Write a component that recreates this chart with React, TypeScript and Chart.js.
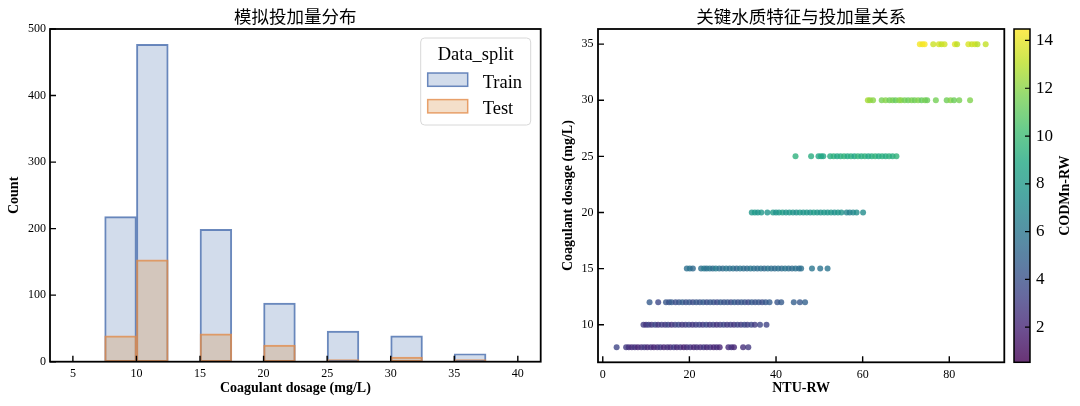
import { useEffect, useRef } from "react";
import { Chart, registerables, ChartConfiguration, Plugin } from "chart.js";

Chart.register(...registerables);

const SERIF = "'Liberation Serif', 'Times New Roman', serif";
const CJK = "'Noto Sans CJK SC', sans-serif";

// left: histogram, bin width 2.5 (centres)
const binCenters = [8.75, 11.25, 13.75, 16.25, 18.75, 21.25, 23.75, 26.25, 28.75, 31.25, 33.75, 36.25];
const trainCounts = [218, 477, 0, 199, 0, 88, 0, 46, 0, 39, 0, 12];
const testCounts = [39, 153, 0, 42, 0, 25, 0, 3, 0, 7, 0, 3];
const histTitle = "模拟投加量分布";
const legendTitle = "Data_split";
const splitLabels = ["Train", "Test"];

// right: scatter, [NTU-RW, CODMn-RW] for each coagulant dosage
const dose8 = [[3.2, 3.4], [5.4, 2.9], [6.0, 2.5], [6.7, 2.2], [7.4, 2.6], [8.1, 2.0], [8.9, 2.4], [9.6, 2.8], [10.3, 2.1], [11.1, 2.5], [11.8, 1.9], [12.6, 2.3], [13.3, 2.7], [14.1, 2.0], [14.9, 2.4], [15.6, 2.2], [16.4, 2.9], [17.1, 2.1], [17.9, 2.5], [18.7, 1.8], [19.4, 2.3], [20.2, 2.6], [21.0, 2.0], [21.7, 2.4], [22.5, 2.2], [23.3, 2.7], [24.0, 2.1], [24.8, 2.5], [25.6, 1.9], [26.3, 2.3], [27.0, 2.0], [29.0, 2.2], [29.7, 2.6], [30.3, 2.1], [32.4, 2.4], [33.6, 2.8]];
const dose10 = [[9.4, 3.0], [10.0, 2.6], [10.6, 3.3], [11.3, 2.8], [12.1, 3.5], [12.8, 2.7], [13.6, 3.1], [14.4, 2.9], [15.1, 3.4], [15.9, 2.6], [16.7, 3.2], [17.5, 3.6], [18.3, 2.8], [19.1, 3.0], [19.9, 3.4], [20.7, 2.7], [21.5, 3.1], [22.3, 3.3], [23.1, 2.9], [23.9, 3.5], [24.7, 2.8], [25.5, 3.2], [26.3, 2.6], [27.1, 3.0], [27.9, 3.4], [28.7, 2.9], [29.5, 3.1], [30.3, 2.7], [31.1, 3.3], [31.9, 3.0], [32.7, 3.6], [33.4, 3.2], [34.3, 3.5], [35.1, 3.0], [36.3, 3.4], [37.8, 3.3]];
const dose12 = [[10.8, 4.5], [12.8, 3.6], [14.6, 4.3], [15.3, 4.0], [15.9, 4.6], [16.8, 3.9], [17.6, 4.2], [18.4, 4.7], [19.2, 4.0], [20.0, 4.4], [20.8, 3.8], [21.6, 4.3], [22.4, 4.1], [23.2, 4.6], [24.0, 3.9], [24.8, 4.4], [25.6, 4.2], [26.4, 3.7], [27.2, 4.5], [28.0, 4.1], [28.8, 4.3], [29.6, 3.8], [30.4, 4.6], [31.2, 4.0], [32.0, 4.4], [32.8, 4.2], [33.6, 3.7], [34.4, 4.5], [35.2, 4.1], [36.0, 4.3], [36.8, 3.9], [37.6, 4.4], [38.5, 4.6], [40.3, 4.2], [41.2, 4.5], [44.1, 4.7], [45.5, 4.4], [46.7, 4.8]];
const dose15 = [[19.4, 5.6], [20.1, 5.9], [20.8, 5.3], [22.7, 5.7], [23.4, 6.3], [24.0, 5.8], [24.7, 6.1], [25.4, 5.5], [26.1, 6.4], [26.9, 5.7], [27.7, 5.4], [28.5, 6.0], [29.3, 5.6], [30.1, 5.8], [30.9, 5.3], [31.7, 5.9], [32.5, 5.6], [33.3, 5.4], [34.1, 6.0], [34.9, 5.7], [35.7, 5.5], [36.5, 5.8], [37.3, 5.3], [38.1, 5.9], [38.9, 5.6], [39.7, 5.4], [40.5, 5.7], [41.3, 5.5], [42.1, 5.9], [42.9, 5.6], [43.7, 5.4], [44.5, 5.8], [45.3, 5.5], [45.8, 5.7], [48.3, 6.0], [50.2, 5.8], [51.9, 5.9]];
const dose20 = [[34.4, 7.8], [35.1, 8.1], [35.8, 7.6], [36.6, 8.0], [38.0, 7.7], [39.3, 8.2], [40.0, 7.5], [40.7, 7.9], [41.5, 8.3], [42.3, 7.6], [43.1, 8.0], [43.9, 7.8], [44.7, 7.4], [45.5, 8.1], [46.3, 7.7], [47.1, 7.9], [47.9, 7.5], [48.7, 8.2], [49.5, 7.8], [50.3, 7.6], [51.1, 8.0], [51.9, 7.7], [52.7, 7.9], [53.5, 7.5], [54.3, 7.8], [55.1, 7.6], [56.3, 6.9], [57.0, 6.6], [57.8, 7.0], [58.6, 7.3], [60.1, 7.2]];
const dose25 = [[44.5, 9.4], [48.1, 9.2], [49.8, 8.8], [50.4, 9.0], [50.9, 8.7], [52.5, 9.1], [53.3, 9.4], [54.1, 8.9], [54.9, 9.2], [55.7, 9.5], [56.5, 9.0], [57.3, 9.3], [58.1, 8.8], [58.9, 9.6], [59.7, 9.1], [60.5, 9.4], [61.3, 8.9], [62.1, 9.2], [62.9, 9.5], [63.7, 9.0], [64.5, 9.3], [65.3, 9.1], [66.1, 9.4], [66.9, 9.2], [67.8, 9.5]];
const dose30 = [[61.2, 12.6], [61.7, 12.3], [62.4, 12.0], [64.4, 11.6], [65.3, 11.9], [66.2, 11.4], [66.9, 11.7], [67.6, 11.2], [68.4, 11.8], [68.9, 12.0], [69.7, 11.5], [70.5, 11.3], [71.3, 11.7], [72.0, 11.4], [72.8, 11.8], [73.6, 11.2], [74.4, 11.6], [74.9, 11.3], [76.9, 11.5], [79.4, 11.4], [80.3, 11.9], [81.1, 11.3], [82.3, 11.6], [84.8, 11.8]];
const dose35 = [[73.2, 14.3], [73.8, 14.2], [74.3, 14.4], [76.3, 13.4], [77.6, 13.6], [78.2, 13.2], [78.9, 13.5], [81.3, 13.8], [81.8, 13.1], [84.4, 13.7], [85.2, 13.3], [85.9, 13.5], [86.5, 13.0], [88.4, 13.2]];
const dosageLevels = [8, 10, 12, 15, 20, 25, 30, 35];
const scatterByDose = [dose8, dose10, dose12, dose15, dose20, dose25, dose30, dose35];
const scatterTitle = "关键水质特征与投加量关系";
const CB_MIN = 0.53;
const CB_MAX = 14.48;

const VIRIDIS = ["#440154", "#482475", "#414487", "#355f8d", "#2a788e", "#21918c", "#22a884", "#44bf70", "#7ad151", "#bddf26", "#fde725"];
const VIRIDIS_RGB = VIRIDIS.map((h) => {
  const n = parseInt(h.slice(1), 16);
  return [n >> 16, (n >> 8) & 255, n & 255];
});

function viridis(t: number, alpha: number) {
  t = Math.min(1, Math.max(0, t));
  const f = t * (VIRIDIS_RGB.length - 1);
  const i = Math.min(Math.floor(f), VIRIDIS_RGB.length - 2);
  const k = f - i;
  const a = VIRIDIS_RGB[i], b = VIRIDIS_RGB[i + 1];
  const c = a.map((v, j) => Math.round(v + (b[j] - v) * k));
  return `rgba(${c[0]},${c[1]},${c[2]},${alpha})`;
}

const TRAIN_FILL = "rgba(76,114,176,0.25)";
const TRAIN_EDGE = "rgba(70,108,172,0.8)";
const TEST_FILL = "rgba(215,135,60,0.27)";
const TEST_EDGE = "rgba(228,140,75,0.8)";

const tickFont = { family: SERIF, size: 12 };
const axisTitleFont = { family: SERIF, size: 14, weight: "bold" as const };

// frame, inward ticks on bottom/left, and the title above the axes
function framePlugin(title: string): Plugin {
  return {
    id: "frame",
    afterDatasetsDraw(chart) {
      const { ctx, chartArea: a } = chart;
      const xs = chart.scales.x;
      const ys = chart.scales.y;
      ctx.save();
      ctx.strokeStyle = "#000";
      ctx.lineWidth = 1.4;
      ctx.beginPath();
      xs.ticks.forEach((t) => {
        const p = xs.getPixelForValue(t.value);
        ctx.moveTo(p, a.bottom);
        ctx.lineTo(p, a.bottom - 6);
      });
      ys.ticks.forEach((t) => {
        const p = ys.getPixelForValue(t.value);
        ctx.moveTo(a.left, p);
        ctx.lineTo(a.left + 6, p);
      });
      ctx.stroke();
      ctx.lineWidth = 1.8;
      ctx.strokeRect(a.left, a.top, a.right - a.left, a.bottom - a.top);
      ctx.fillStyle = "#000";
      ctx.font = `17.5px ${CJK}`;
      ctx.textAlign = "center";
      ctx.textBaseline = "middle";
      ctx.fillText(title, (a.left + a.right) / 2, 16);
      ctx.restore();
    },
  };
}

const legendPlugin: Plugin = {
  id: "histLegend",
  afterDraw(chart) {
    const { ctx, chartArea: a } = chart;
    const w = 110, h = 87;
    const x0 = a.right - 10 - w;
    const y0 = a.top + 9;
    ctx.save();
    ctx.fillStyle = "rgba(255,255,255,0.8)";
    ctx.strokeStyle = "#d8d8d8";
    ctx.lineWidth = 1;
    ctx.beginPath();
    ctx.roundRect(x0, y0, w, h, 4);
    ctx.fill();
    ctx.stroke();
    ctx.fillStyle = "#000";
    ctx.font = `18.5px ${SERIF}`;
    ctx.textAlign = "center";
    ctx.textBaseline = "alphabetic";
    ctx.fillText(legendTitle, x0 + w / 2, y0 + 22);
    ctx.textAlign = "left";
    const fills = [TRAIN_FILL, TEST_FILL];
    const edges = [TRAIN_EDGE, TEST_EDGE];
    splitLabels.forEach((lab, i) => {
      const sy = y0 + 35 + i * 26.6;
      ctx.fillStyle = "#fff";
      ctx.fillRect(x0 + 7, sy, 40, 13.3);
      ctx.fillStyle = fills[i];
      ctx.fillRect(x0 + 7, sy, 40, 13.3);
      ctx.strokeStyle = edges[i];
      ctx.lineWidth = 1.5;
      ctx.strokeRect(x0 + 7, sy, 40, 13.3);
      ctx.fillStyle = "#000";
      ctx.fillText(lab, x0 + 62, sy + 14.5);
    });
    ctx.restore();
  },
};

const colorbarPlugin: Plugin = {
  id: "colorbar",
  afterDraw(chart) {
    const { ctx, chartArea: a } = chart;
    const cb = chart.scales.cb;
    const x0 = a.right + 9.7;
    const w = 16;
    const yTop = cb.getPixelForValue(CB_MAX);
    const yBot = cb.getPixelForValue(CB_MIN);
    ctx.save();
    const g = ctx.createLinearGradient(0, yBot, 0, yTop);
    for (let i = 0; i <= 40; i++) g.addColorStop(i / 40, viridis(i / 40, 0.8));
    ctx.fillStyle = g;
    ctx.fillRect(x0, yTop, w, yBot - yTop);
    ctx.strokeStyle = "#000";
    ctx.lineWidth = 1.2;
    ctx.beginPath();
    cb.ticks.forEach((t) => {
      const p = cb.getPixelForValue(t.value);
      ctx.moveTo(x0 + w, p);
      ctx.lineTo(x0 + w - 5, p);
    });
    ctx.stroke();
    ctx.lineWidth = 1.5;
    ctx.strokeRect(x0, yTop, w, yBot - yTop);
    ctx.translate(a.right + 60.7, (yTop + yBot) / 2);
    ctx.rotate(-Math.PI / 2);
    ctx.fillStyle = "#000";
    ctx.font = `bold 14px ${SERIF}`;
    ctx.textAlign = "center";
    ctx.textBaseline = "middle";
    ctx.fillText("CODMn-RW", 0, 0);
    ctx.restore();
  },
};

function HistChart() {
  const ref = useRef<HTMLCanvasElement | null>(null);
  useEffect(() => {
    if (!ref.current) return;
    const config: ChartConfiguration = {
      type: "bar",
      data: {
        datasets: [
          {
            label: splitLabels[0],
            data: binCenters.map((x, i) => ({ x, y: trainCounts[i] })),
            backgroundColor: TRAIN_FILL,
            borderColor: TRAIN_EDGE,
            borderWidth: 1.3,
            borderSkipped: false,
            barPercentage: 1,
            categoryPercentage: 1,
            grouped: false,
            order: 1,
          },
          {
            label: splitLabels[1],
            data: binCenters.map((x, i) => ({ x, y: testCounts[i] })),
            backgroundColor: TEST_FILL,
            borderColor: TEST_EDGE,
            borderWidth: 1.3,
            borderSkipped: false,
            barPercentage: 1,
            categoryPercentage: 1,
            grouped: false,
            order: 0,
          },
        ],
      } as any,
      options: {
        responsive: false,
        animation: false,
        events: [],
        layout: { padding: { top: 29, right: 9.3, left: 0, bottom: 0 } },
        plugins: { legend: { display: false }, tooltip: { enabled: false } },
        scales: {
          x: {
            type: "linear",
            min: 3.2,
            max: 41.8,
            offset: false,
            grid: { display: false, drawTicks: false, offset: false },
            border: { display: false },
            ticks: { stepSize: 5, includeBounds: false, padding: 5, font: tickFont, color: "#000", maxRotation: 0 },
            title: { display: true, text: "Coagulant dosage (mg/L)", font: axisTitleFont, color: "#000", padding: { top: 0, bottom: 9 } },
            afterFit: (s) => { s.height = 44.3; },
          },
          y: {
            type: "linear",
            min: 0,
            max: 500,
            grid: { display: false, drawTicks: false },
            border: { display: false },
            ticks: { stepSize: 100, includeBounds: false, padding: 4, font: tickFont, color: "#000" },
            title: { display: true, text: "Count", font: axisTitleFont, color: "#000", padding: { top: 6, bottom: 0 } },
            afterFit: (s) => { s.width = 50; },
          },
        },
      },
      plugins: [framePlugin(histTitle), legendPlugin],
    };
    const chart = new Chart(ref.current, config);
    return () => chart.destroy();
  }, []);
  return <canvas ref={ref} width={550} height={406} style={{ position: "absolute", left: 0, top: 0 }} />;
}

function ScatterChart() {
  const ref = useRef<HTMLCanvasElement | null>(null);
  useEffect(() => {
    if (!ref.current) return;
    const config: ChartConfiguration = {
      type: "scatter",
      data: {
        datasets: scatterByDose.map((pts, k) => ({
          label: `${dosageLevels[k]}`,
          data: pts.map(([x]) => ({ x, y: dosageLevels[k] })),
          backgroundColor: pts.map(([, c]) => viridis((c - CB_MIN) / (CB_MAX - CB_MIN), 0.8)),
          pointRadius: 3,
          pointHoverRadius: 3,
          borderWidth: 0,
          xAxisID: "x",
          yAxisID: "y",
        })),
      },
      options: {
        responsive: false,
        animation: false,
        events: [],
        layout: { padding: { top: 29, right: 0, left: 0, bottom: 0 } },
        plugins: { legend: { display: false }, tooltip: { enabled: false } },
        scales: {
          x: {
            type: "linear",
            min: -1.1,
            max: 92.7,
            grid: { display: false, drawTicks: false },
            border: { display: false },
            ticks: { stepSize: 20, includeBounds: false, padding: 5, font: tickFont, color: "#000", maxRotation: 0 },
            title: { display: true, text: "NTU-RW", font: axisTitleFont, color: "#000", padding: { top: 0, bottom: 9 } },
            afterFit: (s) => { s.height = 43.7; },
          },
          y: {
            type: "linear",
            position: "left",
            min: 6.65,
            max: 36.35,
            grid: { display: false, drawTicks: false },
            border: { display: false },
            ticks: { stepSize: 5, includeBounds: false, padding: 4.5, font: tickFont, color: "#000" },
            title: { display: true, text: "Coagulant dosage (mg/L)", font: axisTitleFont, color: "#000", padding: { top: 10, bottom: 0 } },
            afterFit: (s) => { s.width = 48; },
          },
          cb: {
            type: "linear",
            position: "right",
            min: CB_MIN,
            max: CB_MAX,
            // invisible tick marks push the labels past the colour bar
            grid: { display: true, drawOnChartArea: false, drawTicks: true, tickLength: 31.7, color: "rgba(0,0,0,0)" },
            border: { display: false },
            ticks: { stepSize: 2, includeBounds: false, padding: 0, font: { family: SERIF, size: 17 }, color: "#000" },
            afterFit: (s) => { s.width = 75.7; },
          },
        },
      },
      plugins: [framePlugin(scatterTitle), colorbarPlugin],
    };
    const chart = new Chart(ref.current, config);
    return () => chart.destroy();
  }, []);
  return <canvas ref={ref} width={530} height={406} style={{ position: "absolute", left: 550, top: 0 }} />;
}

export default function App() {
  return (
    <div style={{ position: "fixed", left: 0, top: 0, width: 1080, height: 406, background: "#fff" }}>
      <HistChart />
      <ScatterChart />
    </div>
  );
}
